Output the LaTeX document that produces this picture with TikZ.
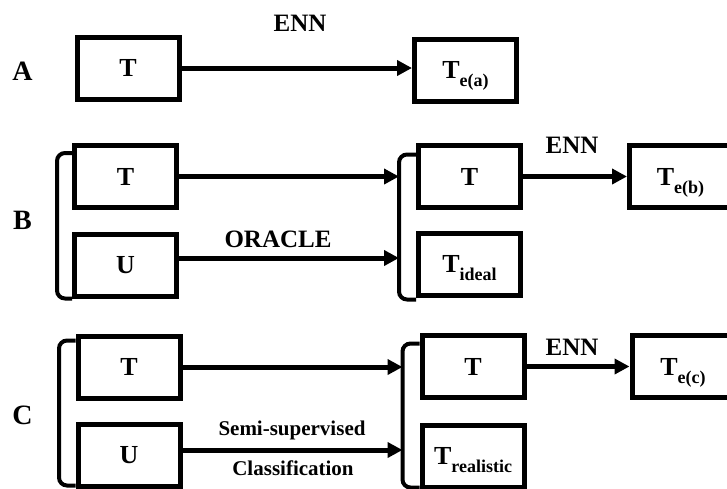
\documentclass[tikz,border=0pt]{standalone}
\usepackage{fontspec}
\setmainfont{Liberation Serif}
\usetikzlibrary{arrows.meta}
\newcommand\myfs[1]{\fontsize{#1}{#1}\selectfont}
\newcommand\sublbl[1]{\raisebox{-8pt}[0pt][0pt]{\myfs{18}#1}}
\begin{document}
\begin{tikzpicture}[x=1pt,y=-1pt,
  box/.style={draw, line width=5pt, minimum width=102pt, minimum height=62pt, inner sep=0pt, font=\bfseries\myfs{26}},
  conn/.style={line width=5pt, -{Triangle[length=15pt,width=15pt]}},
  brk/.style={line width=4pt, rounded corners=8pt},
  lbl/.style={font=\bfseries\myfs{25}, inner sep=0pt},
  small/.style={font=\bfseries\myfs{21}, inner sep=0pt},
  rowlbl/.style={font=\bfseries\myfs{28}, inner sep=0pt}]
\useasboundingbox (0,0) rectangle (727,488);
\clip (0,0) rectangle (727,488);
% row labels
\node[rowlbl] (la) at (22.5,71) {A};
\node[rowlbl] (lb) at (22.5,220) {B};
\node[rowlbl] (lc) at (22.5,415) {C};
% row A
\node[box] (aT) at (128,68) {T};
\node[box] (aE) at (465.5,70) {T\sublbl{e(a)}};
\draw[conn] (aT.east) -- (aT.east -| aE.west);
\node[lbl] (ennA) at (300,23) {ENN};
% row B
\node[box] (bT) at (125.5,176.5) {T};
\node[box] (bU) at (125.5,265) {U};
\node[box] (bM) at (469.5,176.5) {T};
\node[box] (bI) at (469.5,264) {T\sublbl{ideal}};
\node[box] (bE) at (680.5,176.5) {T\sublbl{e(b)}};
\draw[brk] ([yshift=-10pt]bT.north west) -- ++(-15,0) |- (bU.south west);
\draw[brk] ([yshift=-11.5pt]bM.north west) -- ++(-17,0) coordinate (bJ) |- ([yshift=-2pt]bI.south west);
\draw[conn] (bT.east) -- (bT.east -| bJ);
\draw[conn] ([yshift=7pt]bU.east) -- ([yshift=7pt]bU.east -| bJ);
\draw[conn] (bM.east) -- (bM.east -| bE.west);
\node[lbl] (oracle) at (278,239) {ORACLE};
\node[lbl] (ennB) at (572,145) {ENN};
% row C
\node[box] (cT) at (129,367) {T};
\node[box] (cU) at (129,455) {U};
\node[box] (cM) at (473,366.5) {T};
\node[box] (cR) at (473,456) {T\sublbl{realistic}};
\node[box] (cE) at (683,366.5) {T\sublbl{e(c)}};
\draw[brk] ([yshift=-7pt]cT.north west) -- ++(-16.5,0) |- ([yshift=3pt]cU.south west);
\draw[brk] ([yshift=-10.5pt]cM.north west) -- ++(-17,0) coordinate (cJ) |- ([yshift=2pt]cR.south west);
\draw[conn] (cT.east) -- (cT.east -| cJ);
\draw[conn] ([yshift=5pt]cU.east) -- ([yshift=5pt]cU.east -| cJ);
\draw[conn] (cM.east) -- (cM.east -| cE.west);
\node[small] (semi) at (292,430) {Semi-supervised};
\node[small] (classif) at (293,468) {Classification};
\node[lbl] (ennC) at (572,347) {ENN};
\end{tikzpicture}
\end{document}
